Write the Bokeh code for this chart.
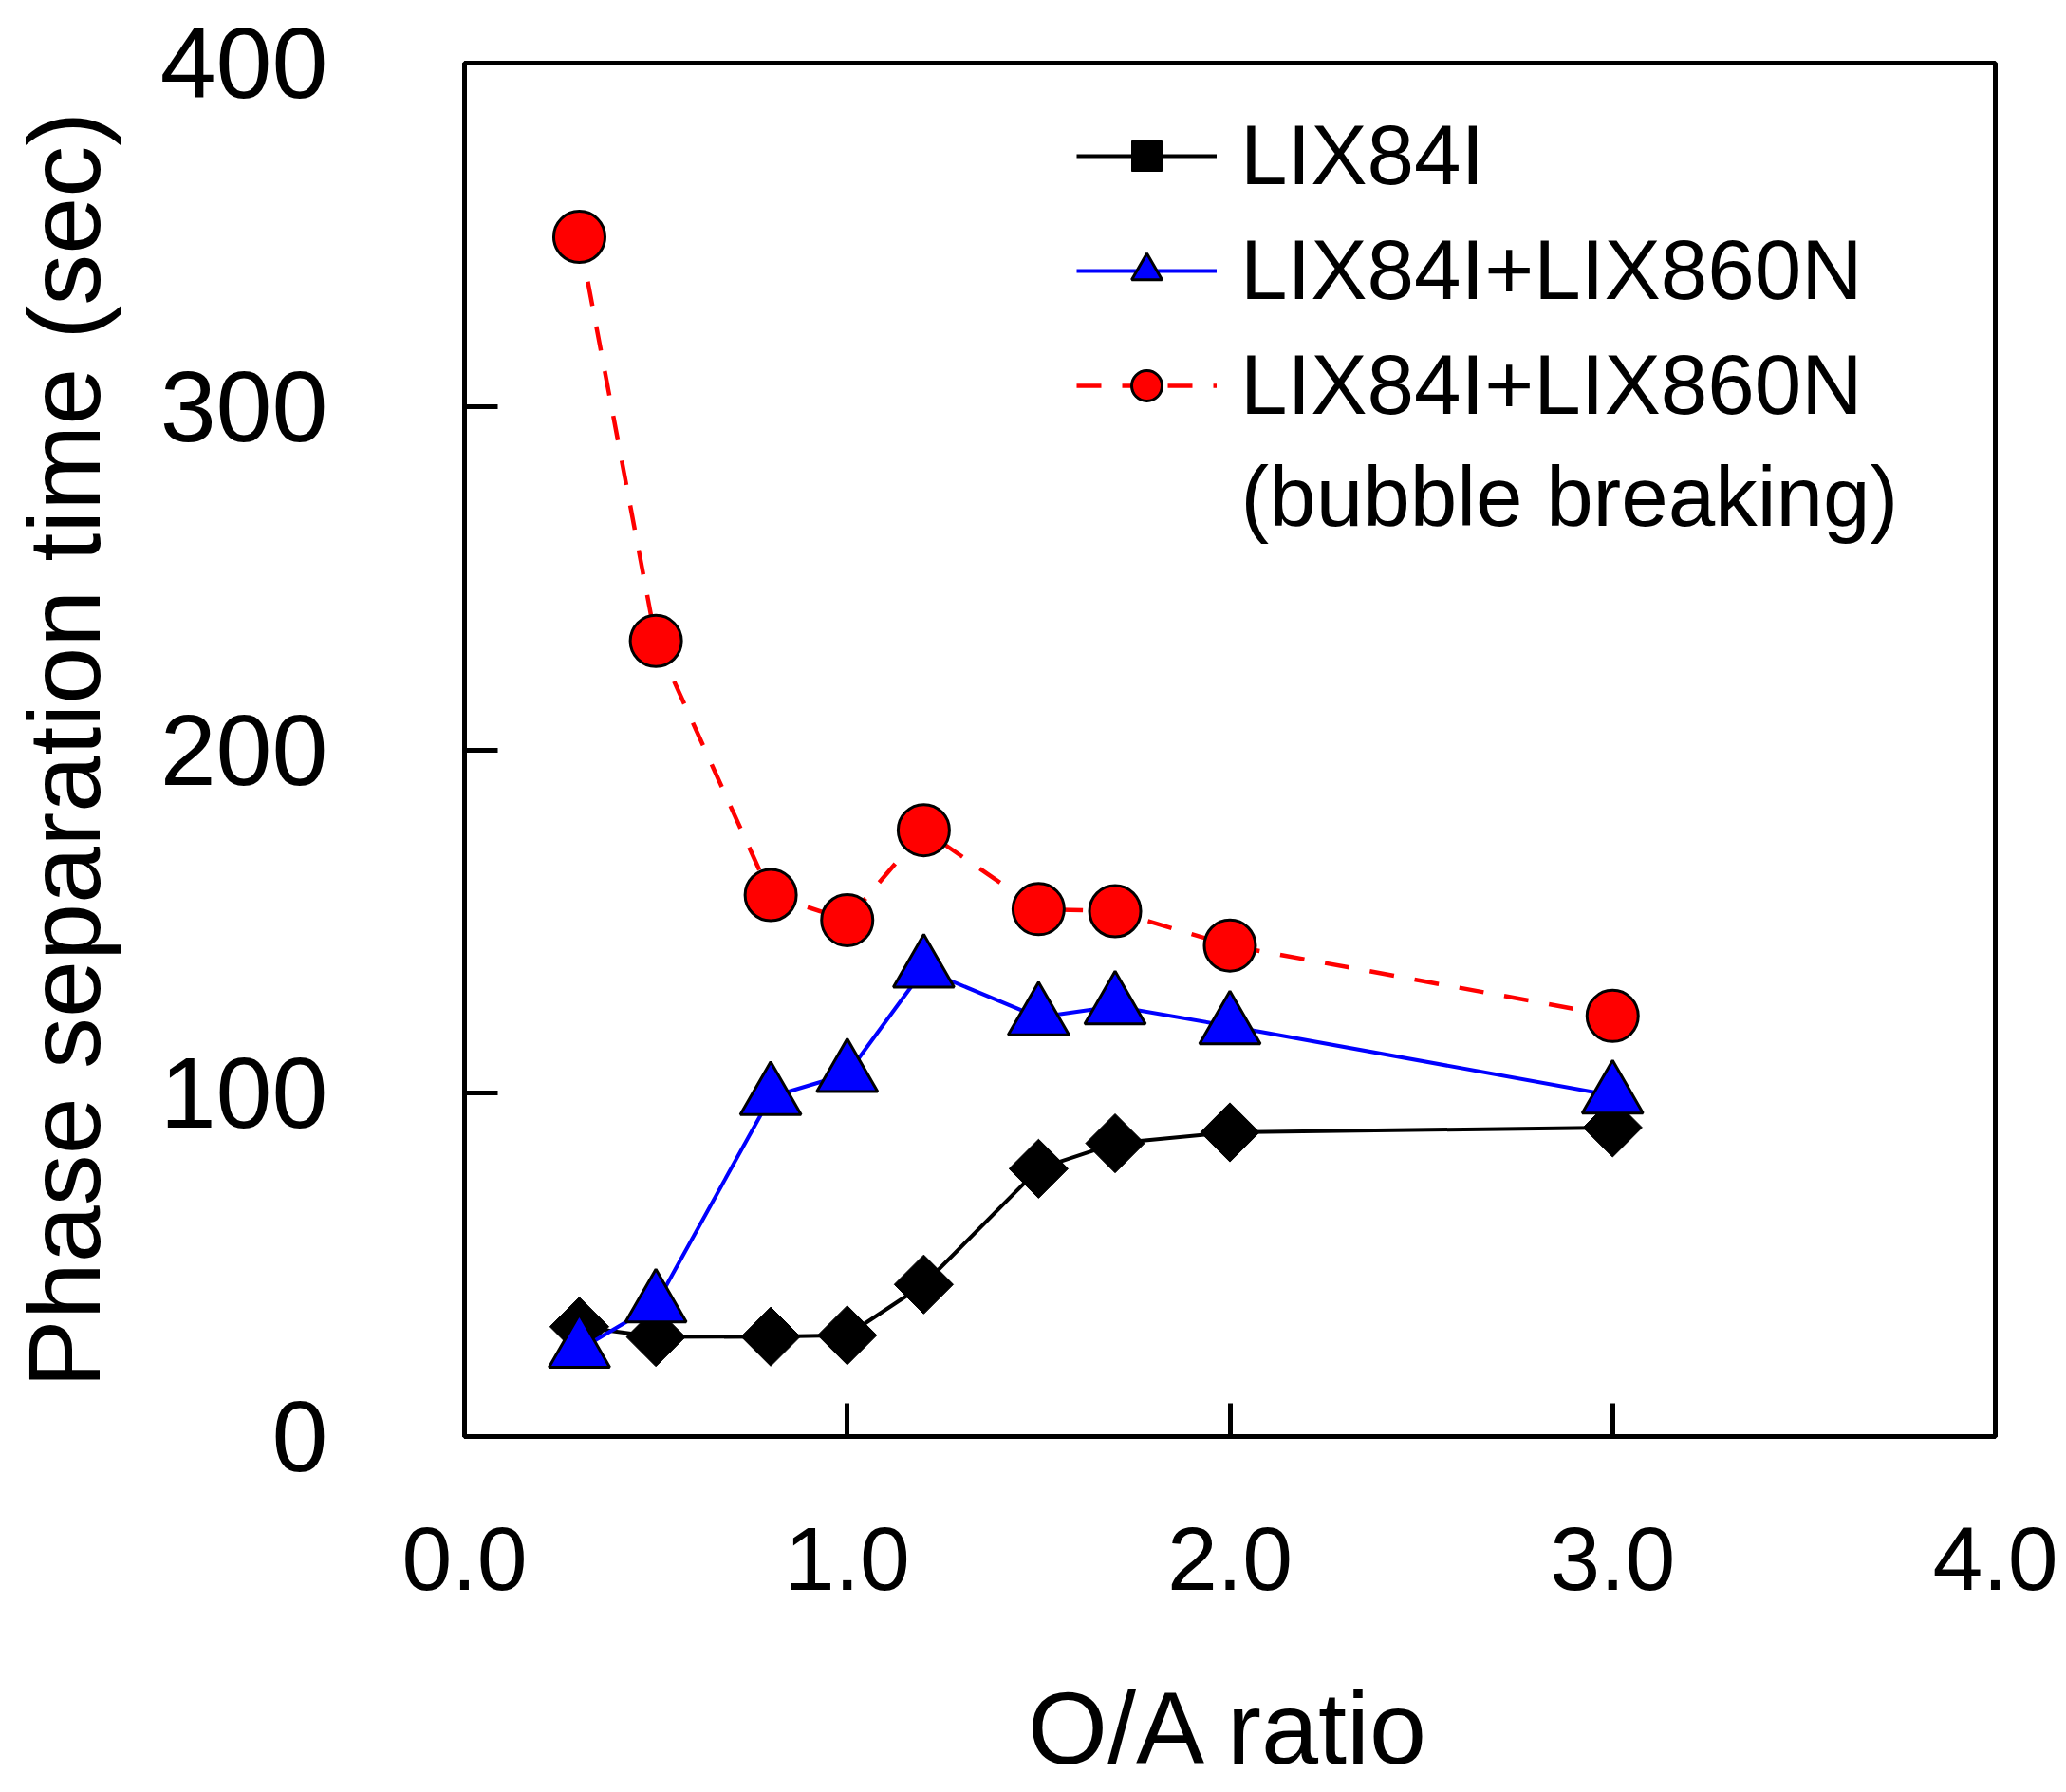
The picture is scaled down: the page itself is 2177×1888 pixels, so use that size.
import math
from bokeh.plotting import figure
from bokeh.models import FixedTicker, Legend, LegendItem, Label, Range1d
from bokeh.embed import file_html
from bokeh.resources import INLINE

# ---- data ----
oa_ratio = [0.3, 0.5, 0.8, 1.0, 1.2, 1.5, 1.7, 2.0, 3.0]
lix84i = [32.0, 29.0, 29.1, 29.5, 44.3, 78.0, 85.4, 88.6, 90.0]
lix84i_lix860n = [25.3, 38.5, 98.9, 105.6, 136.0, 122.1, 125.3, 119.5, 99.3]
lix84i_lix860n_bubble = [349.4, 231.7, 157.7, 150.4, 176.6, 153.6, 153.0, 143.0, 122.5]

x_ticks = [0, 1, 2, 3, 4]
x_tick_labels = ["0.0", "1.0", "2.0", "3.0", "4.0"]
y_ticks = [0, 100, 200, 300, 400]
y_tick_labels = ["0", "100", "200", "300", "400"]

series_names = ["LIX84I", "LIX84I+LIX860N", "LIX84I+LIX860N"]
legend_note = "(bubble breaking)"
x_title = "O/A ratio"
y_title = "Phase separation time (sec)"

FONT = "Liberation Sans"

p = figure(width=2176, height=1887,
           x_range=Range1d(0, 4), y_range=Range1d(0, 400),
           output_backend="svg", toolbar_location=None,
           min_border_left=489, min_border_right=74,
           min_border_top=66, min_border_bottom=374)

p.xgrid.visible = False
p.ygrid.visible = False
p.outline_line_color = "black"
p.outline_line_width = 5
p.background_fill_color = "white"
p.border_fill_color = "white"

# axes
for ax, ticks, labels, fs in ((p.xaxis, x_ticks, x_tick_labels, "95px"),
                              (p.yaxis, y_ticks, y_tick_labels, "106px")):
    ax.ticker = FixedTicker(ticks=ticks)
    ax.major_label_overrides = dict(zip(ticks, labels))
    ax.axis_line_color = "black"
    ax.axis_line_width = 5
    ax.major_tick_line_color = "black"
    ax.major_tick_line_width = 5
    ax.major_tick_in = 35
    ax.major_tick_out = 0
    ax.minor_tick_line_color = None
    ax.major_label_text_font = FONT
    ax.major_label_text_font_size = fs
    ax.major_label_text_color = "black"
    ax.axis_label_text_font = FONT
    ax.axis_label_text_font_size = "108px"
    ax.axis_label_text_font_style = "normal"
    ax.axis_label_text_color = "black"

p.xaxis.axis_label = x_title
p.yaxis.axis_label = y_title
p.xaxis.major_label_standoff = 96
p.yaxis.major_label_standoff = 144
p.xaxis.axis_label_standoff = 82
p.yaxis.axis_label_standoff = 38

# series
bl = p.line(oa_ratio, lix84i, line_color="black", line_width=4)
bm = p.scatter(oa_ratio, lix84i, marker="square", size=44, angle=math.pi / 4,
               fill_color="black", line_color="black", line_width=1)

ul = p.line(oa_ratio, lix84i_lix860n, line_color="#0000ff", line_width=4)
um = p.scatter(oa_ratio, lix84i_lix860n, marker="triangle", size=64,
               fill_color="#0000ff", line_color="black", line_width=3)

rl = p.line(oa_ratio, lix84i_lix860n_bubble, line_color="#ff0000", line_width=4.5,
            line_dash="26 22")
rm = p.scatter(oa_ratio, lix84i_lix860n_bubble, marker="circle", size=54,
               fill_color="#ff0000", line_color="black", line_width=3)

legend = Legend(items=[
    LegendItem(label=series_names[0], renderers=[bl, bm]),
    LegendItem(label=series_names[1], renderers=[ul, um]),
    LegendItem(label=series_names[2], renderers=[rl, rm]),
], location=(645, 1056), glyph_width=148, glyph_height=80, label_height=80,
    label_standoff=25, spacing=18, padding=0, margin=0,
    border_line_color=None, background_fill_alpha=0,
    label_text_font=FONT, label_text_font_size="89px", label_text_color="black")
p.add_layout(legend)

note = Label(x=818, y=991, x_units="screen", y_units="screen", text=legend_note,
             text_font=FONT, text_font_size="89px", text_baseline="middle",
             text_color="black")
p.add_layout(note)

open("out.html", "w").write(file_html(p, INLINE))
